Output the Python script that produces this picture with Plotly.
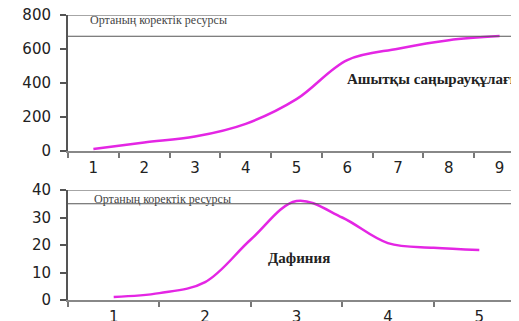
import plotly.graph_objects as go

# Top chart data (yeast)
top_x = [1, 2, 3, 4, 5, 6, 7, 8, 9]
top_y = [12, 50, 85, 160, 305, 535, 602, 652, 676]
top_capacity = 675
top_yticks = [0, 200, 400, 600, 800]

# Bottom chart data (daphnia)
bot_x = [1, 1.5, 2, 2.5, 3, 3.5, 4, 4.5, 5]
bot_y = [1.1, 2.5, 6.5, 22, 36, 30, 20.7, 19, 18.2]
bot_capacity = 35
bot_yticks = [0, 10, 20, 30, 40]
bot_xticks = [1, 2, 3, 4, 5]

resource_label = "Ортаның коректік ресурсы"
top_label = "Ашытқы саңырауқұлағы"
bot_label = "Дафиния"

# page body has an 8px default margin: figure is sized/offset to fill the 519x321 window
OFF = 8
WIN_W, WIN_H = 519, 321
W, H = WIN_W - OFF, WIN_H - OFF
PL, PT, PB = 68, 15, 300   # plot area edges in window pixels
ML, MR, MT, MB = PL - OFF, 0, PT - OFF, WIN_H - PB
ph = PB - PT

def frac(py):
    return (PB - py) / ph

fig = go.Figure()
LINE = "rgb(228,38,228)"
fig.add_trace(go.Scatter(x=top_x, y=top_y, mode="lines", line=dict(color=LINE, width=2.5, shape="spline"),
                         xaxis="x", yaxis="y", showlegend=False, hoverinfo="skip"))
fig.add_trace(go.Scatter(x=bot_x, y=bot_y, mode="lines", line=dict(color=LINE, width=2.5, shape="spline"),
                         xaxis="x2", yaxis="y2", showlegend=False, hoverinfo="skip"))

tickfont = dict(family="DejaVu Sans", size=15, color="#222")
top_step = (525 - PL) / 9.0
bot_step = (525 - PL) / 5.0
top_xmax = 0.5 + (WIN_W - PL) / top_step
bot_xmax = 0.5 + (WIN_W - PL) / bot_step

def xaxis_cfg(ticks_list, xmax, anchor):
    return dict(domain=[0, 1], range=[0.5, xmax], anchor=anchor, automargin=False, tickmode="array",
                tickvals=ticks_list, ticktext=[str(t) for t in ticks_list], ticks="outside", ticklen=2,
                tickcolor="rgba(0,0,0,0)", showline=True, linecolor="#888", linewidth=2, showgrid=False,
                zeroline=False, tickfont=tickfont, ticklabeloverflow="allow",
                minor=dict(tickmode="array", tickvals=[t - 0.5 for t in ticks_list] + [ticks_list[-1] + 0.5],
                           ticks="outside", ticklen=5, tickwidth=1.5, tickcolor="#777", showgrid=False))

def yaxis_cfg(dom, rng, tv, anchor):
    return dict(domain=dom, range=rng, anchor=anchor, automargin=False, tickmode="array", tickvals=tv,
                ticks="outside", ticklen=6, tickwidth=1.5, tickcolor="#555", showline=True, linecolor="#555",
                linewidth=2, showgrid=False, zeroline=False, tickfont=tickfont, ticklabeloverflow="allow",
                ticklabelstandoff=6)

fig.update_layout(
    width=W, height=H, margin=dict(l=ML, r=MR, t=MT, b=MB, pad=0, autoexpand=False),
    paper_bgcolor="white", plot_bgcolor="white",
    xaxis=xaxis_cfg(top_x, top_xmax, "y"),
    yaxis=yaxis_cfg([frac(151), 1], [0, 800], top_yticks, "x"),
    xaxis2=xaxis_cfg(bot_xticks, bot_xmax, "y2"),
    yaxis2=yaxis_cfg([0, frac(190)], [0, 40], bot_yticks, "x2"),
)

shapes = []
for yref, yv, col in [("y", 800, "#888"), ("y", top_capacity, "#555"),
                      ("y2", 40, "#888"), ("y2", bot_capacity, "#555")]:
    xr = "x domain" if yref == "y" else "x2 domain"
    shapes.append(dict(type="line", xref=xr, yref=yref, x0=0, x1=1, y0=yv, y1=yv,
                       line=dict(color=col, width=1.5 if yv in (800, 40) else 1)))
fig.update_layout(shapes=shapes)

serif = "Liberation Serif, Times New Roman"
fig.add_annotation(x=0.5 + (88 - PL) / top_step, y=(151 - 20) * 800 / 136, xref="x", yref="y", text=resource_label,
                   showarrow=False, xanchor="left", yanchor="middle", font=dict(family=serif, size=12, color="#444"))
fig.add_annotation(x=0.5 + (92 - PL) / bot_step, y=(300 - 199) * 40 / 110, xref="x2", yref="y2", text=resource_label,
                   showarrow=False, xanchor="left", yanchor="middle", font=dict(family=serif, size=12, color="#444"))
fig.add_annotation(x=0.5 + (345 - PL) / top_step, y=(151 - 79) * 800 / 136, xref="x", yref="y", text="<b>" + top_label + "</b>",
                   showarrow=False, xanchor="left", yanchor="middle", font=dict(family=serif, size=15, color="#222"))
fig.add_annotation(x=0.5 + (299 - PL) / bot_step, y=(300 - 258) * 40 / 110, xref="x2", yref="y2", text="<b>" + bot_label + "</b>",
                   showarrow=False, xanchor="center", yanchor="middle", font=dict(family=serif, size=15, color="#222"))

fig.write_html("out.html")
